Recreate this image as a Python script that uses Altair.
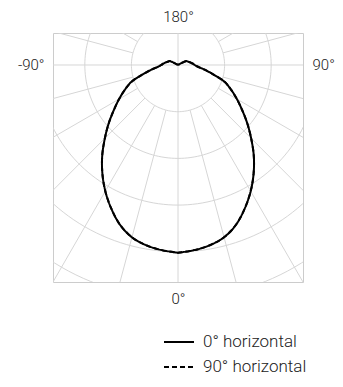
import altair as alt
import pandas as pd

# ---- data ----
angles = [0, 5, 10, 15, 20, 25, 30, 35, 40, 45, 50, 55, 60, 65, 70, 75, 80, 85, 90,
          95, 100, 105, 110, 115, 120, 125, 130, 140, 150, 160, 170, 180]
intensity_c0 = [402, 398, 392, 382, 364, 339, 312, 283, 253, 222, 194, 168, 146, 126, 107, 79, 58, 43, 36,
                32, 28, 25, 22, 20, 0, 0, 0, 0, 0, 0, 0, 0]
intensity_c90 = [402, 398, 392, 382, 364, 339, 312, 283, 253, 222, 194, 168, 146, 126, 107, 79, 58, 43, 36,
                 32, 28, 25, 22, 20, 0, 0, 0, 0, 0, 0, 0, 0]
series_names = ["0° horizontal", "90° horizontal"]
ring_values = [100, 200, 300, 400, 500]
spoke_angles = list(range(0, 360, 15))
label_bottom, label_top, label_left, label_right = "0°", "180°", "-90°", "90°"

# ---- tables ----
rows = []
for name, vals in zip(series_names, [intensity_c0, intensity_c90]):
    for side in (-1, 1):
        for a, r in zip(angles, vals):
            rows.append({"series": name, "side": side, "angle": a, "r": r, "key": side * a})
curve_df = pd.DataFrame(rows)

ring_rows = []
for rv in ring_values:
    for t in range(0, 362, 2):
        ring_rows.append({"ring": rv, "t": t})
ring_df = pd.DataFrame(ring_rows)

spoke_df = pd.DataFrame({"angle": spoke_angles})
spoke_df["r0"] = [0 if a % 90 == 0 else ring_values[0] for a in spoke_angles]
spoke_df["r1"] = 1000

FONT = "Roboto"
TXT = "#222222"
GRID = "#d6d6d6"
xs = alt.Scale(domain=[-268.3, 268.3], nice=False, zero=False)
ys = alt.Scale(domain=[-464.7, 68.5], nice=False, zero=False)


def lab_axis(orient, text):
    return alt.Axis(orient=orient, values=[0], labelExpr=f"'{text}'", domain=False, ticks=False,
                    tickSize=0, grid=False, title=None, labelFont=FONT, labelFontSize=15,
                    labelFontWeight=300, labelColor=TXT, labelPadding=9)


rings = alt.Chart(ring_df).transform_calculate(
    x="datum.ring * sin(datum.t * PI / 180)",
    y="datum.ring * cos(datum.t * PI / 180)",
).mark_line(clip=True, color=GRID, strokeWidth=1).encode(
    x=alt.X("x:Q", scale=xs, axis=lab_axis("bottom", label_bottom)),
    y=alt.Y("y:Q", scale=ys, axis=lab_axis("left", label_left)),
    detail="ring:N",
    order="t:Q",
)

spokes = alt.Chart(spoke_df).transform_calculate(
    x="datum.r0 * sin(datum.angle * PI / 180)",
    y="-datum.r0 * cos(datum.angle * PI / 180)",
    x2="datum.r1 * sin(datum.angle * PI / 180)",
    y2="-datum.r1 * cos(datum.angle * PI / 180)",
).mark_rule(clip=True, color=GRID, strokeWidth=1).encode(
    x=alt.X("x:Q", scale=xs, axis=lab_axis("top", label_top)),
    y=alt.Y("y:Q", scale=ys, axis=lab_axis("right", label_right)),
    x2="x2:Q",
    y2="y2:Q",
)

curves = alt.Chart(curve_df).transform_calculate(
    x="datum.side * datum.r * sin(datum.angle * PI / 180)",
    y="-datum.r * cos(datum.angle * PI / 180)",
).mark_line(clip=True, color="black", strokeWidth=2, interpolate="catmull-rom").encode(
    x=alt.X("x:Q", scale=xs, axis=None),
    y=alt.Y("y:Q", scale=ys, axis=None),
    order="key:Q",
    strokeDash=alt.StrokeDash(
        "series:N",
        scale=alt.Scale(domain=series_names, range=[[1, 0], [5, 3]]),
        sort=series_names,
        legend=alt.Legend(title=None, orient="none", legendX=110, legendY=293,
                          symbolType="stroke", symbolSize=900, symbolStrokeWidth=2,
                          symbolStrokeColor="black", labelFont=FONT, labelFontSize=17,
                          labelFontWeight=300, labelColor=TXT, labelOffset=8,
                          rowPadding=1, padding=0),
    ),
)

chart = alt.layer(rings, spokes, curves).resolve_axis(
    x="independent", y="independent"
).properties(
    width=250, height=249,
    autosize=alt.AutoSizeParams(type="none"),
    padding={"left": 45, "top": 25, "right": 32, "bottom": 97},
).configure_view(stroke="#cccccc", strokeWidth=1)

chart.save("out.html", embed_options={"renderer": "svg", "actions": False})
